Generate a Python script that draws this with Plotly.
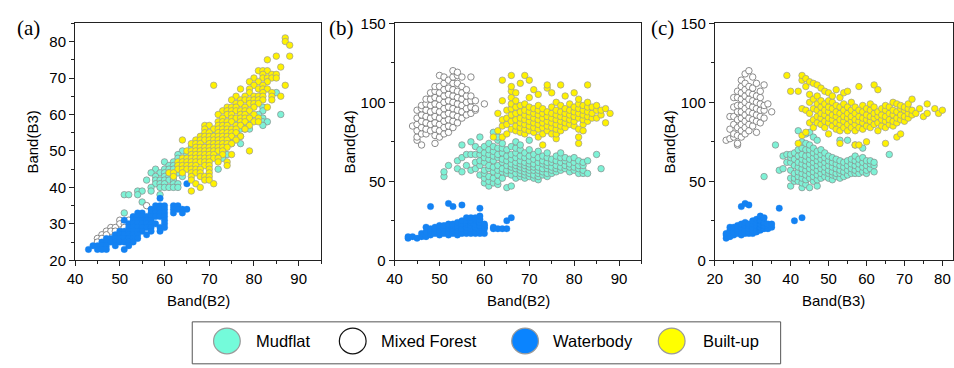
import plotly.graph_objects as go

W, H = 954, 368

# ---------------- DATA ----------------
CLASSES = ["Mudflat", "Mixed Forest", "Waterbody", "Built-up"]

# Panel (a): Band(B2) vs Band(B3); rows keyed by Band(B3) -> list of Band(B2)
A_MUDFLAT = {66: [85], 62: [82], 61: [82], 60: [81, 86], 59: [77, 79, 82],
             58: [76, 78, 79, 82, 83], 57: [77, 78, 82], 56: [77, 78, 79], 55: [71, 76],
             54: [73, 75, 77], 53: [71, 72, 74], 52: [67, 71, 75, 77], 51: [66, 68, 69],
             50: [64, 71, 72, 73], 49: [63, 65, 72, 74], 48: [63, 66, 73], 47: [60, 62, 64, 65],
             46: [61, 62, 63], 45: [58, 60, 61, 62, 72], 44: [57, 59, 60, 61, 63],
             43: [58, 60, 61, 62, 64], 42: [56, 58, 59, 60, 61, 62], 41: [58, 59, 60, 62, 63],
             40: [57, 59, 60, 61, 62, 63], 39: [54, 55, 57], 38: [51, 52, 54, 59], 36: [55],
             33: [51]}
A_FOREST = {35: [56], 31: [50, 52], 30: [50, 51], 29: [48, 49, 51], 28: [47, 48, 49, 56],
            27: [46, 47], 26: [45, 46], 25: [45]}
A_WATER = {41: [65], 37: [59], 35: [58, 59, 60, 62, 63], 34: [57, 58, 59, 60, 62, 63, 64, 65],
           33: [54, 55, 57, 58, 59, 60, 62, 64], 32: [53, 54, 55, 56, 57, 58, 59, 60],
           31: [51, 53, 54, 55, 56, 57, 60], 30: [52, 53, 54, 55, 56, 57, 58, 60],
           29: [52, 53, 54, 55, 56, 57, 59, 60], 28: [50, 51, 52, 53, 54, 55, 57, 59],
           27: [49, 50, 51, 52, 53, 54, 56], 26: [47, 48, 49, 50, 51, 52, 53, 54],
           25: [46, 47, 48, 49, 50, 51, 52, 53], 24: [44, 45, 46, 47, 49, 52],
           23: [43, 45, 46, 47, 51]}
A_BUILTUP = {81: [87], 80: [87], 79: [88], 76: [85, 88], 75: [83], 73: [86],
             72: [81, 82, 83], 71: [82, 84, 85], 70: [80, 82, 83, 84, 85], 69: [79, 81, 83],
             68: [71, 80, 82, 87], 67: [77, 79, 81, 82, 83], 66: [79, 82, 84],
             65: [76, 78, 80, 81, 82, 84, 86], 64: [75, 77, 78, 79, 80, 81, 82, 84],
             63: [76, 77, 79, 80, 81], 62: [74, 75, 76, 78, 80, 83],
             61: [73, 74, 75, 76, 77, 78, 79], 60: [72, 74, 75, 77, 78, 80],
             59: [73, 75, 76, 77, 78, 79, 81], 58: [72, 73, 74, 75, 77, 78, 80, 81],
             57: [69, 70, 72, 73, 74, 76, 77, 79], 56: [69, 71, 72, 73, 74, 75, 76, 78],
             55: [69, 70, 72, 73, 74, 75, 76], 54: [68, 69, 70, 71, 72, 73, 74, 75, 77],
             53: [64, 67, 68, 69, 70, 71, 72, 73, 74, 76], 52: [66, 67, 68, 70, 71, 72, 73, 74, 75],
             51: [67, 68, 69, 70, 71, 72, 73, 74], 50: [65, 66, 67, 68, 69, 70, 71, 72, 73, 79],
             49: [66, 67, 68, 69, 70, 71, 73, 75], 48: [64, 65, 66, 67, 68, 69, 70, 71, 72],
             47: [63, 64, 65, 66, 67, 68, 69, 70, 72, 74], 46: [63, 64, 65, 66, 67, 69, 70, 74],
             45: [63, 64, 65, 66, 67, 68, 70], 44: [61, 62, 64, 66, 67, 68, 70],
             43: [62, 66, 68, 69, 70], 42: [66, 69, 70], 41: [67, 71], 40: [68], 39: [66]}

# Panel (b): Band(B2) vs Band(B4); columns keyed by Band(B2) -> list of Band(B4)
B_MUDFLAT = {51: [53, 56], 52: [60], 54: [58, 63], 55: [56, 65, 73], 56: [60, 67],
             57: [57, 67, 75], 58: [58, 62, 67, 72], 59: [54, 60, 63, 67, 70, 78],
             60: [49, 52, 55, 57, 62, 65, 68, 72], 61: [47, 50, 53, 58, 60, 64, 67, 70, 74],
             62: [49, 52, 56, 59, 63, 66, 69, 72, 81], 63: [48, 50, 54, 57, 60, 65, 67, 71, 76, 78],
             64: [52, 56, 58, 62, 64, 68, 71, 74], 65: [46, 55, 57, 60, 63, 66, 70],
             66: [47, 54, 57, 59, 61, 64, 67, 72], 67: [52, 55, 58, 60, 62, 65, 68, 71, 75],
             68: [53, 55, 57, 59, 61, 63, 66, 70, 73], 69: [52, 54, 56, 58, 60, 62, 65, 68],
             70: [53, 55, 57, 59, 61, 63, 66, 70, 76], 71: [52, 54, 57, 59, 61, 64, 67],
             72: [51, 53, 55, 57, 59, 62, 65, 69], 73: [54, 56, 58, 61, 63, 66],
             74: [53, 55, 58, 60, 62, 65, 68], 75: [55, 57, 59, 62, 64], 76: [56, 58, 60, 63, 66, 80],
             77: [57, 59, 62, 65, 68], 78: [58, 60, 63, 65], 79: [56, 59, 61, 64],
             80: [57, 59, 62, 65], 81: [55, 58, 60, 63], 82: [55, 57, 60, 62], 83: [55, 63],
             85: [67], 86: [58]}
B_FOREST = {44: [85], 45: [76, 78, 82, 86, 90, 95], 46: [73, 80, 84, 88, 92, 96, 98],
            47: [80, 83, 87, 91, 95, 99, 102], 48: [82, 86, 90, 94, 98, 102, 106],
            49: [74, 79, 83, 87, 91, 95, 99, 103, 107, 110], 50: [78, 82, 86, 90, 94, 98, 102, 106, 110, 117],
            51: [80, 84, 88, 92, 96, 100, 104, 108, 112, 116], 52: [81, 85, 89, 93, 97, 101, 105, 109, 114],
            53: [84, 88, 92, 96, 100, 104, 108, 112, 116, 120], 54: [87, 91, 95, 99, 103, 107, 112, 117, 119],
            55: [90, 94, 98, 102, 106, 110, 116], 56: [92, 96, 100, 104, 108],
            57: [93, 97, 101, 104, 116], 58: [95, 96, 101], 60: [99]}
B_WATER = {43: [14, 15], 44: [15], 45: [14], 46: [15, 17], 47: [15, 18, 21],
           48: [16, 18, 19, 20, 34], 49: [17, 19, 20, 21], 50: [16, 18, 19, 21, 22],
           51: [17, 19, 20, 22], 52: [16, 18, 20, 21, 22, 23, 36], 53: [17, 19, 20, 22, 23, 34],
           54: [16, 18, 19, 21, 22, 24], 55: [17, 18, 20, 22, 23, 25, 35],
           56: [17, 19, 21, 23, 24, 25, 27], 57: [17, 19, 20, 22, 24, 25, 27],
           58: [17, 18, 20, 21, 23, 25, 26, 27], 59: [17, 19, 21, 22, 24, 26, 28, 33],
           60: [17, 20, 21, 22, 23], 62: [20, 21], 63: [20], 64: [20], 65: [20, 25], 66: [27]}
B_BUILTUP = {62: [78], 63: [82, 93], 64: [78, 85, 89, 101, 114], 65: [80, 86, 90, 95],
             66: [83, 88, 92, 96, 99, 103, 107, 110, 117], 67: [82, 85, 89, 93, 97, 101, 106],
             68: [81, 84, 87, 90, 94, 98, 112], 69: [80, 83, 86, 89, 92, 95, 99, 117],
             70: [82, 85, 88, 91, 94, 97, 103, 114], 71: [81, 84, 87, 90, 93, 96, 108],
             72: [78, 83, 86, 89, 92, 95, 98, 105], 73: [73, 80, 84, 87, 90, 93, 96],
             74: [82, 85, 88, 91, 94, 109, 111], 75: [80, 84, 87, 90, 93, 97, 106],
             76: [77, 80, 83, 86, 89, 92, 95, 100], 77: [82, 85, 88, 91, 94, 98, 111],
             78: [84, 87, 90, 93, 96, 104], 79: [86, 89, 92, 95, 99], 80: [85, 88, 91, 94, 97, 106],
             81: [74, 78, 83, 90, 93, 96, 99, 102], 82: [82, 86, 89, 92, 95, 98],
             83: [88, 91, 94, 97, 100, 111], 84: [90, 93, 97], 85: [90, 95, 98], 86: [92, 95],
             87: [87, 96], 88: [93]}

# Panel (c): Band(B3) vs Band(B4); columns keyed by Band(B3) -> list of Band(B4)
C_MUDFLAT = {33: [53], 36: [73], 37: [57], 38: [58, 66], 39: [62, 67],
             40: [47, 52, 57, 62, 65, 67], 41: [50, 52, 55, 60, 64, 68],
             42: [50, 53, 56, 59, 62, 66, 70, 82], 43: [46, 49, 52, 55, 58, 61, 64, 67, 71, 75],
             44: [48, 51, 54, 57, 60, 63, 66, 70, 74, 80], 45: [46, 52, 55, 58, 61, 64, 67, 70, 73, 81],
             46: [50, 53, 56, 59, 62, 65, 68, 71, 78], 47: [47, 51, 54, 57, 60, 63, 66, 69, 76],
             48: [52, 55, 58, 61, 64, 67, 70], 49: [53, 56, 59, 62, 65, 68],
             50: [52, 55, 57, 60, 63, 66], 51: [51, 54, 56, 59, 62, 65], 52: [53, 55, 58, 61, 64],
             53: [52, 55, 57, 60, 63, 76], 54: [53, 56, 59, 62], 55: [54, 57, 60, 63, 76],
             56: [55, 58, 61, 64], 57: [55, 57, 60, 63, 66, 73], 58: [55, 58, 61, 64],
             59: [56, 59, 62, 65, 71], 60: [55, 57, 60, 63], 61: [58, 61, 63], 62: [56, 60, 62],
             66: [67]}
C_FOREST = {23: [76], 24: [77, 83, 91], 25: [78, 80, 86, 91, 97, 103],
            26: [73, 74, 79, 84, 89, 94, 98, 103, 107], 27: [78, 82, 86, 90, 94, 98, 102, 106, 110, 114],
            28: [80, 84, 88, 92, 96, 100, 104, 108, 112, 118], 29: [82, 86, 90, 94, 98, 102, 106, 110, 120],
            30: [85, 89, 93, 97, 101, 105, 109, 116], 31: [81, 88, 92, 96, 100, 104, 112],
            32: [87, 91, 95, 99, 103, 107], 33: [90, 95, 98, 111], 34: [99], 35: [94]}
C_WATER = {23: [14, 16, 17], 24: [15, 17, 19, 21], 25: [16, 18, 20, 21], 26: [17, 19, 20, 22],
           27: [16, 18, 20, 21, 23, 34], 28: [17, 19, 21, 22, 24, 36], 29: [17, 18, 20, 22, 23, 35],
           30: [17, 19, 21, 23, 25], 31: [18, 20, 22, 24, 26], 32: [19, 21, 23, 25, 28],
           33: [20, 22, 24, 27], 34: [20, 22, 23], 35: [21, 23], 37: [33], 41: [25], 43: [27]}
C_BUILTUP = {39: [117], 40: [107], 42: [74, 107], 43: [79, 96, 114, 117], 44: [81, 95, 110, 115],
             45: [87, 93, 100, 105, 113], 46: [84, 89, 96, 102, 112], 47: [87, 91, 95, 99, 104, 111],
             48: [86, 90, 93, 97, 101, 109], 49: [84, 88, 92, 95, 99, 107],
             50: [80, 87, 90, 94, 97, 101, 106], 51: [85, 89, 92, 96, 100, 104],
             52: [83, 87, 91, 94, 98, 108], 53: [74, 82, 86, 89, 93, 97, 103],
             54: [84, 88, 91, 95, 99, 106], 55: [82, 86, 90, 93, 97, 107], 56: [84, 88, 91, 95, 100],
             57: [73, 82, 86, 89, 93, 97], 58: [73, 84, 88, 91, 95, 110], 59: [83, 87, 90, 94, 98],
             60: [75, 85, 89, 92, 96], 61: [84, 88, 91, 95, 99], 62: [86, 90, 93, 97, 111],
             63: [82, 87, 91, 94, 108], 64: [85, 89, 92, 96], 65: [74, 84, 88, 91, 95, 98],
             66: [86, 89, 93, 97], 67: [85, 88, 92, 95, 100], 68: [78, 87, 90, 94, 99],
             69: [80, 89, 92, 96, 98], 70: [88, 91, 95, 97], 71: [90, 93, 96, 99], 72: [92, 95, 102],
             73: [93], 74: [96], 75: [91], 76: [93, 99], 78: [96], 79: [93], 80: [95]}

PANEL_LABELS = ["(a)", "(b)", "(c)"]
X_TITLES = ["Band(B2)", "Band(B2)", "Band(B3)"]
Y_TITLES = ["Band(B3)", "Band(B4)", "Band(B4)"]


def rows_by_y(d):
    xs, ys = [], []
    for y, xl in d.items():
        for x in xl:
            xs.append(x); ys.append(y)
    return xs, ys


def cols_by_x(d):
    xs, ys = [], []
    for x, yl in d.items():
        for y in yl:
            xs.append(x); ys.append(y)
    return xs, ys


# ---------------- STYLE ----------------
STYLE = {
    "Mudflat": dict(color="#7EF2D6", line=dict(color="#8a8a8a", width=0.7)),
    "Mixed Forest": dict(color="#FFFFFF", line=dict(color="#6e6e6e", width=0.8)),
    "Waterbody": dict(color="#1482F2", line=dict(color="#1482F2", width=0.3)),
    "Built-up": dict(color="#FFF200", line=dict(color="#9a9a9a", width=0.7)),
}
LEGEND_FILL = {"Mudflat": "#74FBDA", "Mixed Forest": "#FFFFFF",
               "Waterbody": "#0A84FF", "Built-up": "#FFFF00"}
LEGEND_EDGE = {"Mudflat": "#9a9a9a", "Mixed Forest": "#111111",
               "Waterbody": "#9a9a9a", "Built-up": "#9a9a9a"}

FONT = "Liberation Sans, Arial, sans-serif"


def px(x):
    return x / W


def py(y):
    return 1 - y / H


fig = go.Figure()

panels = [
    ("x", "y", [rows_by_y(A_MUDFLAT), rows_by_y(A_FOREST), rows_by_y(A_WATER), rows_by_y(A_BUILTUP)]),
    ("x2", "y2", [cols_by_x(B_MUDFLAT), cols_by_x(B_FOREST), cols_by_x(B_WATER), cols_by_x(B_BUILTUP)]),
    ("x3", "y3", [cols_by_x(C_MUDFLAT), cols_by_x(C_FOREST), cols_by_x(C_WATER), cols_by_x(C_BUILTUP)]),
]
for xa, ya, series in panels:
    for name, (xs, ys) in zip(CLASSES, series):
        fig.add_trace(go.Scatter(
            x=xs, y=ys, mode="markers", name=name, xaxis=xa, yaxis=ya,
            showlegend=False, hoverinfo="skip",
            marker=dict(size=6.5, symbol="circle", **STYLE[name])))

top_px, bot_px = 15, 263.5
domains_px = [(67.7, 316.0), (390.3, 639.5), (713.5, 954.0)]
x_ranges = [[40, 95], [40, 95], [20, 82.8]]
y_ranges = [[20, 85], [0, 150], [0, 150]]
x_dticks = [10, 10, 10]
y_dticks = [10, 50, 50]
x_minor = [5, 5, 5]
y_minor = [5, 25, 25]

axis_common = dict(
    showline=True, linecolor="#222", linewidth=1, mirror=True,
    ticks="outside", ticklen=5, tickwidth=1, tickcolor="#222",
    showgrid=False, zeroline=False,
    tickfont=dict(family=FONT, size=15, color="#000"),
)

layout = dict(
    width=W, height=H, margin=dict(l=0, r=0, t=0, b=0),
    paper_bgcolor="white", plot_bgcolor="white", showlegend=False,
)
names_x = ["xaxis", "xaxis2", "xaxis3"]
names_y = ["yaxis", "yaxis2", "yaxis3"]
anchors_x = ["x", "x2", "x3"]
anchors_y = ["y", "y2", "y3"]
for i in range(3):
    l, r = domains_px[i]
    layout[names_x[i]] = dict(
        domain=[px(l), px(r)], range=x_ranges[i], anchor=anchors_y[i],
        dtick=x_dticks[i], tick0=0,
        minor=dict(ticks="outside", ticklen=3, tickwidth=1, tickcolor="#222",
                   dtick=x_minor[i], tick0=0, showgrid=False),
        **axis_common)
    layout[names_y[i]] = dict(
        domain=[py(bot_px), py(top_px)], range=y_ranges[i], anchor=anchors_x[i],
        dtick=y_dticks[i], tick0=0,
        minor=dict(ticks="outside", ticklen=3, tickwidth=1, tickcolor="#222",
                   dtick=y_minor[i], tick0=0, showgrid=False),
        **axis_common)
fig.update_layout(**layout)

annotations = []
label_pos = [(21, 20), (337, 20), (661, 20)]
ytitle_x = [25, 345, 668]
for i in range(3):
    l, r = domains_px[i]
    annotations.append(dict(
        text=PANEL_LABELS[i], x=px(label_pos[i][0]), y=py(label_pos[i][1]),
        xref="paper", yref="paper", showarrow=False, xanchor="center", yanchor="middle",
        font=dict(family="Liberation Serif, Times New Roman, serif", size=21, color="#000")))
    annotations.append(dict(
        text=X_TITLES[i], x=px((l + r) / 2), y=py(306),
        xref="paper", yref="paper", showarrow=False, xanchor="center", yanchor="middle",
        font=dict(family=FONT, size=15, color="#000")))
    annotations.append(dict(
        text=Y_TITLES[i], x=px(ytitle_x[i]), y=py((top_px + bot_px) / 2), textangle=-90,
        xref="paper", yref="paper", showarrow=False, xanchor="center", yanchor="middle",
        font=dict(family=FONT, size=15, color="#000")))

# manual legend
shapes = [dict(type="rect", xref="paper", yref="paper",
               x0=px(186), x1=px(780), y0=py(372), y1=py(328),
               line=dict(color="#555", width=1), fillcolor="rgba(0,0,0,0)")]
leg_cx = [221, 348, 522, 670]
leg_tx = [248, 375, 548, 700]
leg_cy = 348
rad = 13.5
for name, cx, tx in zip(CLASSES, leg_cx, leg_tx):
    shapes.append(dict(type="circle", xref="paper", yref="paper",
                       x0=px(cx - rad), x1=px(cx + rad), y0=py(leg_cy + rad), y1=py(leg_cy - rad),
                       fillcolor=LEGEND_FILL[name],
                       line=dict(color=LEGEND_EDGE[name], width=1.2)))
    annotations.append(dict(
        text=name, x=px(tx), y=py(leg_cy), xref="paper", yref="paper", showarrow=False,
        xanchor="left", yanchor="middle", font=dict(family=FONT, size=16.5, color="#000")))

fig.update_layout(annotations=annotations, shapes=shapes)
fig.write_html("out.html")
